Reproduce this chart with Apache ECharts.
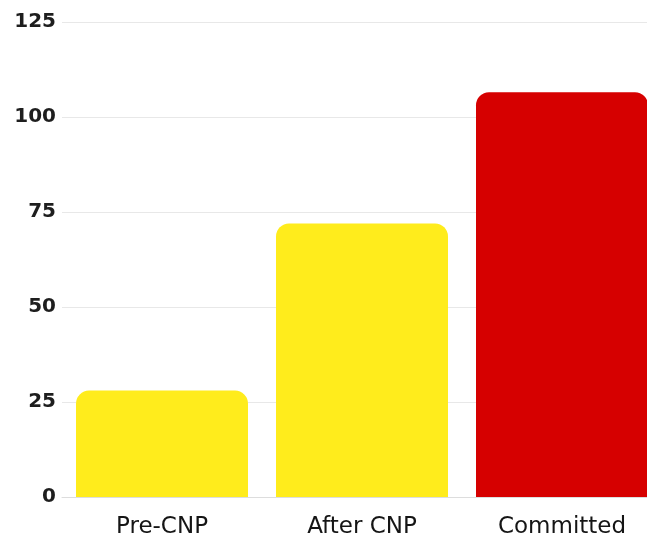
<!DOCTYPE html>
<html>
<head>
<meta charset="utf-8">
<script src="https://cdn.jsdelivr.net/npm/echarts@6/dist/echarts.min.js"></script>
<style>
html,body{margin:0;padding:0;background:#fff;overflow:hidden;}
#wrap{width:647px;height:540px;overflow:hidden;}
#chart{width:662px;height:540px;}
</style>
</head>
<body>
<div id="wrap"><div id="chart"></div></div>
<script>
const categories = ["Pre-CNP", "After CNP", "Committed"];
const values = [28, 72, 106.5];
const barColors = ["#FFEC1C", "#FFEC1C", "#D60000"];
const yTicks = [0, 25, 50, 75, 100, 125];

const chart = echarts.init(document.getElementById('chart'), null, {renderer: 'canvas'});
chart.setOption({
  animation: false,
  grid: {left: 62, top: 22, right: 0, bottom: 43, containLabel: false},
  xAxis: {
    type: 'category',
    data: categories,
    axisLine: {show: true, lineStyle: {color: '#dddddd', width: 1}},
    axisTick: {show: false},
    axisLabel: {margin: 19, fontSize: 23, fontFamily: 'DejaVu Sans', fontWeight: 'normal', color: '#151515'}
  },
  yAxis: {
    type: 'value',
    min: yTicks[0],
    max: yTicks[yTicks.length - 1],
    interval: 25,
    axisLine: {show: false},
    axisTick: {show: false},
    splitLine: {lineStyle: {color: '#e8e8e8', width: 1}},
    axisLabel: {margin: 6, fontSize: 20, fontFamily: 'DejaVu Sans', fontWeight: 'bold', color: '#1e1e1e'}
  },
  series: [{
    type: 'bar',
    barWidth: 172,
    data: values.map((v, i) => ({value: v, itemStyle: {color: barColors[i]}})),
    itemStyle: {borderRadius: [13, 13, 0, 0]}
  }]
});
</script>
</body>
</html>
